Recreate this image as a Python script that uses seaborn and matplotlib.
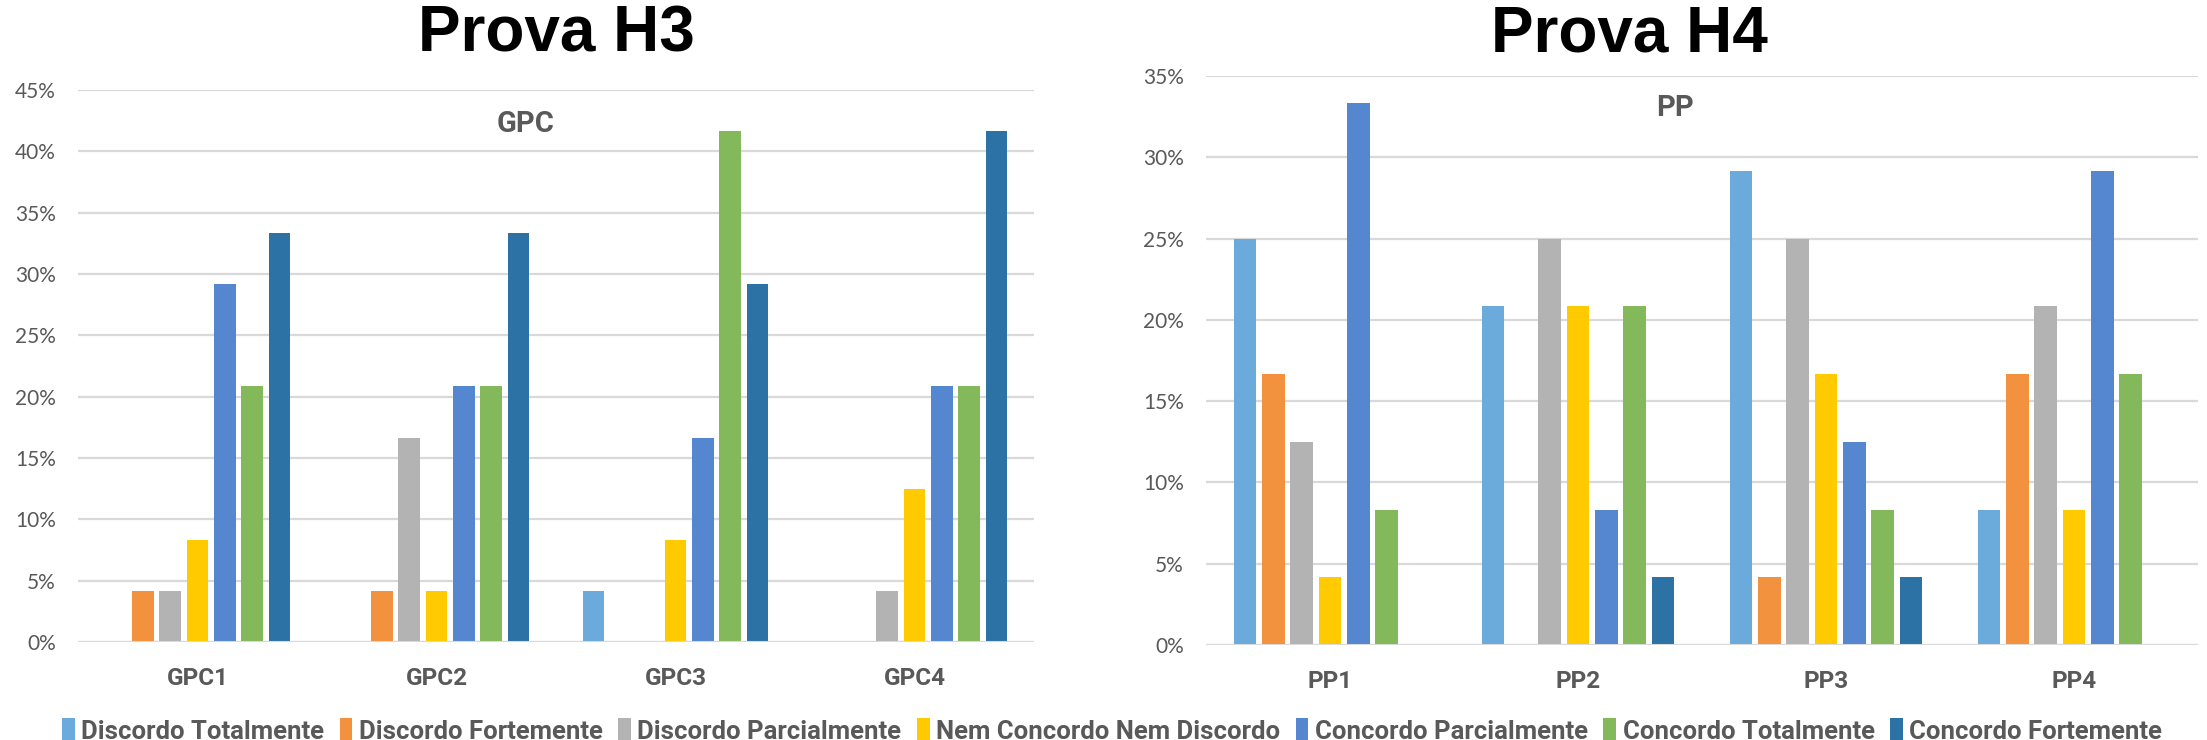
import matplotlib
matplotlib.use("Agg")
import matplotlib.pyplot as plt
from matplotlib.ticker import MultipleLocator, PercentFormatter
import pandas as pd
import seaborn as sns

# Response scale (legend order)
respostas = [
    "Discordo Totalmente",
    "Discordo Fortemente",
    "Discordo Parcialmente",
    "Nem Concordo Nem Discordo",
    "Concordo Parcialmente",
    "Concordo Totalmente",
    "Concordo Fortemente",
]
cores = ["#6AABDB", "#F2923F", "#B3B3B3", "#FFCB00", "#5587D0", "#83B95B", "#2D72A4"]

# Prova H3 - GPC items (percent of answers per response)
itens_h3 = ["GPC1", "GPC2", "GPC3", "GPC4"]
gpc1 = [0.00, 4.17, 4.17, 8.33, 29.17, 20.83, 33.33]
gpc2 = [0.00, 4.17, 16.67, 4.17, 20.83, 20.83, 33.33]
gpc3 = [4.17, 0.00, 0.00, 8.33, 16.67, 41.67, 29.17]
gpc4 = [0.00, 0.00, 4.17, 12.50, 20.83, 20.83, 41.67]

# Prova H4 - PP items
itens_h4 = ["PP1", "PP2", "PP3", "PP4"]
pp1 = [25.00, 16.67, 12.50, 4.17, 33.33, 8.33, 0.00]
pp2 = [20.83, 0.00, 25.00, 20.83, 8.33, 20.83, 4.17]
pp3 = [29.17, 4.17, 25.00, 16.67, 12.50, 8.33, 4.17]
pp4 = [8.33, 16.67, 20.83, 8.33, 29.17, 16.67, 0.00]


def long_table(itens, series):
    rows = []
    for item, vals in zip(itens, series):
        for resp, v in zip(respostas, vals):
            rows.append({"item": item, "resposta": resp, "valor": v})
    return pd.DataFrame(rows)


df_h3 = long_table(itens_h3, [gpc1, gpc2, gpc3, gpc4])
df_h4 = long_table(itens_h4, [pp1, pp2, pp3, pp4])

sns.set_theme(style="white")
plt.rcParams["font.family"] = ["Lato", "DejaVu Sans"]
BOLD_FAMILY = ["Roboto", "DejaVu Sans"]

W, H = 2207, 740
fig = plt.figure(figsize=(W / 100, H / 100), dpi=100)

ax1 = fig.add_axes([78 / W, (H - 642) / H, (1034 - 78) / W, (642 - 90) / H])
ax2 = fig.add_axes([1206 / W, (H - 645) / H, (2198 - 1206) / W, (645 - 76) / H])

grey_txt = "#595959"
grid_col = "#D9D9D9"


def draw(ax, df, order, ymax, sub, sub_xy, show_legend):
    sns.barplot(
        data=df, x="item", y="valor", hue="resposta",
        order=order, hue_order=respostas, palette=cores, saturation=1,
        width=0.8, gap=0.2, errorbar=None, linewidth=0,
        legend=show_legend, ax=ax, zorder=3,
    )
    ax.set_ylim(0, ymax)
    ax.set_xlim(-0.5, len(order) - 0.5)
    ax.yaxis.set_major_locator(MultipleLocator(5))
    ax.yaxis.set_major_formatter(PercentFormatter(decimals=0))
    ax.grid(axis="y", color=grid_col, linewidth=1.6, zorder=0)
    ax.grid(axis="x", visible=False)
    for s in ax.spines.values():
        s.set_visible(False)
    ax.axhline(0, color=grid_col, linewidth=2.2, zorder=4)
    ax.set_xlabel("")
    ax.set_ylabel("")
    ax.tick_params(axis="y", length=0, pad=16, labelsize=15, labelcolor=grey_txt)
    ax.tick_params(axis="x", length=0, pad=18, labelcolor=grey_txt)
    for t in ax.get_xticklabels():
        t.set_fontfamily(BOLD_FAMILY)
        t.set_fontweight("bold")
        t.set_fontsize(17.5)
    fig.text(sub_xy[0] / W, 1 - sub_xy[1] / H, sub, ha="center", va="center",
             fontsize=21, fontweight="bold", family=BOLD_FAMILY, color=grey_txt)


draw(ax1, df_h3, itens_h3, 45, "GPC", (526, 124), True)
draw(ax2, df_h4, itens_h4, 35, "PP", (1675, 108), False)

handles, labels = ax1.get_legend_handles_labels()
ax1.get_legend().remove()

fig.text(556 / W, 1 - 35 / H, "Prova H3", ha="center", va="center",
         fontsize=46, fontweight="bold", family="Liberation Sans", color="black")
fig.text(1629 / W, 1 - 35 / H, "Prova H4", ha="center", va="center",
         fontsize=46, fontweight="bold", family="Liberation Sans", color="black")

leg = fig.legend(
    handles, labels, loc="center", bbox_to_anchor=(1112 / W, 1 - 731 / H),
    ncol=7, frameon=False, handlelength=0.5, handleheight=1.1,
    handletextpad=0.25, columnspacing=0.6,
    prop={"family": BOLD_FAMILY, "size": 18.5, "weight": "bold"},
)
for t in leg.get_texts():
    t.set_color(grey_txt)

fig.savefig("out.png", dpi=100, facecolor="white")
